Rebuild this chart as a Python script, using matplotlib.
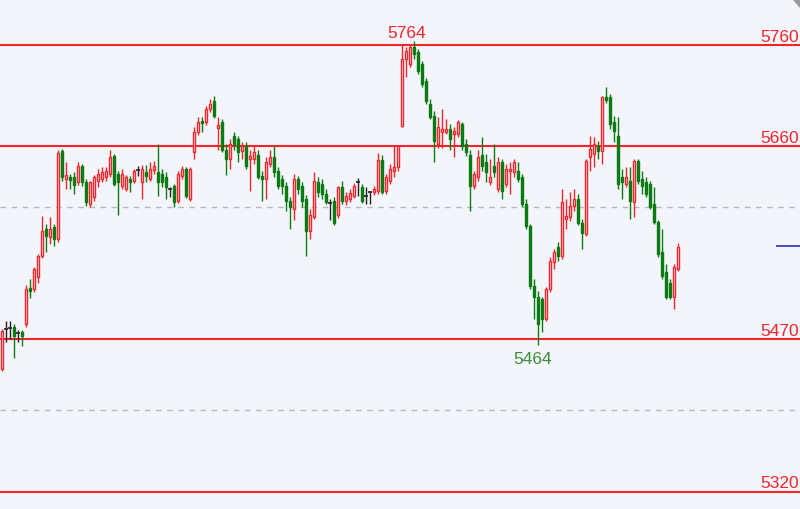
import matplotlib
matplotlib.use("Agg")
import matplotlib.pyplot as plt
import numpy as np

# OHLC per bar (price units)
opens = [5441, 5480, 5481, 5482, 5476, 5477, 5485, 5521, 5520, 5531,
         5552, 5579, 5571, 5581, 5569, 5656, 5628, 5630, 5630, 5625,
         5641, 5625, 5603, 5610, 5626, 5628, 5630, 5633, 5651, 5633,
         5621, 5618, 5628, 5626, 5637, 5625, 5635, 5628, 5637, 5635,
         5633, 5630, 5618, 5621, 5606, 5631, 5638, 5608, 5655, 5674,
         5685, 5684, 5697, 5705, 5678, 5684, 5657, 5648, 5670, 5667,
         5656, 5660, 5648, 5648, 5652, 5631, 5628, 5643, 5650, 5636,
         5628, 5621, 5606, 5598, 5628, 5621, 5608, 5577, 5591, 5625,
         5623, 5613, 5604, 5606, 5593, 5620, 5606, 5608, 5611, 5625,
         5620, 5611, 5615, 5615, 5616, 5647, 5616, 5626, 5636, 5640,
         5680, 5746, 5741, 5758, 5753, 5741, 5725, 5702, 5690, 5662,
         5674, 5674, 5677, 5672, 5672, 5682, 5662, 5652, 5621, 5630,
         5652, 5645, 5625, 5641, 5618, 5645, 5623, 5636, 5635, 5636,
         5630, 5603, 5582, 5523, 5512, 5510, 5490, 5520, 5546, 5561,
         5552, 5589, 5591, 5601, 5608, 5585, 5574, 5650, 5653, 5660,
         5656, 5709, 5709, 5684, 5670, 5630, 5623, 5626, 5605, 5646,
         5628, 5625, 5623, 5603, 5586, 5556, 5536, 5526, 5512, 5539]
highs = [5480, 5488, 5488, 5485, 5479, 5479, 5524, 5529, 5541, 5554,
         5592, 5584, 5591, 5584, 5657, 5658, 5645, 5633, 5635, 5645,
         5643, 5628, 5626, 5632, 5638, 5640, 5640, 5657, 5653, 5636,
         5638, 5632, 5631, 5638, 5641, 5642, 5642, 5645, 5646, 5662,
         5638, 5635, 5620, 5623, 5636, 5641, 5640, 5640, 5679, 5689,
         5689, 5700, 5707, 5710, 5689, 5687, 5662, 5667, 5674, 5670,
         5664, 5664, 5657, 5660, 5657, 5636, 5650, 5657, 5660, 5640,
         5632, 5625, 5610, 5633, 5631, 5625, 5612, 5598, 5635, 5630,
         5628, 5618, 5608, 5610, 5621, 5626, 5615, 5618, 5624, 5629,
         5623, 5620, 5616, 5621, 5654, 5652, 5633, 5643, 5660, 5661,
         5761, 5758, 5760, 5764, 5756, 5744, 5727, 5707, 5695, 5689,
         5697, 5687, 5682, 5679, 5686, 5684, 5667, 5657, 5636, 5657,
         5669, 5653, 5648, 5662, 5650, 5648, 5643, 5645, 5648, 5645,
         5633, 5608, 5584, 5529, 5518, 5512, 5522, 5551, 5559, 5566,
         5618, 5608, 5615, 5618, 5613, 5589, 5648, 5670, 5669, 5665,
         5710, 5719, 5712, 5690, 5689, 5638, 5640, 5640, 5648, 5648,
         5636, 5630, 5626, 5620, 5588, 5579, 5544, 5529, 5544, 5565]
lows = [5439, 5467, 5470, 5452, 5467, 5463, 5482, 5511, 5517, 5526,
        5550, 5556, 5564, 5562, 5566, 5626, 5618, 5618, 5613, 5622,
        5621, 5601, 5600, 5606, 5620, 5625, 5626, 5630, 5621, 5593,
        5618, 5616, 5615, 5624, 5631, 5608, 5625, 5626, 5633, 5611,
        5620, 5608, 5610, 5600, 5604, 5628, 5609, 5606, 5648, 5671,
        5674, 5681, 5694, 5688, 5657, 5655, 5632, 5638, 5657, 5645,
        5648, 5638, 5616, 5643, 5628, 5606, 5608, 5640, 5630, 5618,
        5613, 5596, 5579, 5588, 5613, 5600, 5552, 5569, 5589, 5610,
        5608, 5603, 5588, 5583, 5590, 5603, 5602, 5605, 5609, 5611,
        5604, 5603, 5603, 5612, 5613, 5613, 5613, 5623, 5630, 5636,
        5679, 5728, 5738, 5746, 5731, 5719, 5702, 5687, 5645, 5659,
        5659, 5672, 5657, 5650, 5669, 5657, 5651, 5596, 5618, 5626,
        5636, 5625, 5622, 5630, 5615, 5608, 5620, 5613, 5630, 5625,
        5600, 5579, 5520, 5490, 5464, 5477, 5488, 5517, 5539, 5547,
        5549, 5579, 5587, 5596, 5583, 5559, 5572, 5636, 5640, 5648,
        5643, 5703, 5677, 5664, 5618, 5608, 5620, 5589, 5591, 5623,
        5613, 5610, 5598, 5584, 5551, 5529, 5510, 5510, 5500, 5537]
closes = [5478, 5480, 5481, 5473, 5476, 5473, 5520, 5518, 5539, 5552,
          5577, 5572, 5579, 5569, 5654, 5630, 5632, 5627, 5622, 5641,
          5625, 5605, 5625, 5630, 5633, 5635, 5636, 5650, 5623, 5625,
          5633, 5630, 5625, 5636, 5637, 5638, 5631, 5638, 5641, 5625,
          5625, 5620, 5618, 5605, 5633, 5638, 5611, 5638, 5674, 5684,
          5683, 5697, 5702, 5690, 5681, 5657, 5648, 5662, 5662, 5655,
          5660, 5641, 5651, 5655, 5630, 5628, 5645, 5650, 5635, 5621,
          5621, 5606, 5600, 5628, 5618, 5606, 5577, 5593, 5626, 5615,
          5613, 5605, 5604, 5585, 5620, 5606, 5611, 5614, 5621, 5625,
          5606, 5611, 5615, 5618, 5647, 5615, 5630, 5638, 5640, 5660,
          5746, 5754, 5758, 5751, 5734, 5722, 5705, 5689, 5665, 5679,
          5677, 5677, 5667, 5675, 5684, 5660, 5655, 5621, 5633, 5650,
          5641, 5635, 5630, 5635, 5645, 5616, 5638, 5638, 5645, 5628,
          5603, 5582, 5523, 5512, 5485, 5490, 5520, 5547, 5556, 5552,
          5605, 5592, 5601, 5608, 5585, 5575, 5646, 5658, 5662, 5656,
          5709, 5706, 5682, 5675, 5623, 5625, 5630, 5606, 5646, 5626,
          5621, 5613, 5600, 5586, 5554, 5532, 5512, 5512, 5541, 5561]

levels = [5760, 5660, 5470, 5320]
grid_levels = [5600, 5400]
last_price = 5562
session_start = 60  # high/low labels refer to the later session only

bg = "#f4f4fb"
red = "#f0262b"
green = "#0a7a12"

fig = plt.figure(figsize=(8, 5.1), dpi=100, facecolor=bg)
ax = fig.add_axes([0, 0, 1, 1])
ax.set_facecolor(bg)
ax.set_xlim(-0.5, 199.5)
ax.set_ylim(5302.9, 5805.3)
ax.axis("off")

# dashed grid and support / resistance levels
for g in grid_levels:
    ax.axhline(g, color="#b8b8c0", lw=1, ls=(0, (4, 4)), zorder=1)
for lv in levels:
    ax.axhline(lv, color=red, lw=1.5, zorder=2)
    ax.annotate(str(lv), xy=(199.3, lv), xytext=(0, 1), textcoords="offset points",
                ha="right", va="bottom", color=red, fontsize=12.5,
                family="Liberation Sans")

# candles
x = np.arange(len(opens))
o = np.array(opens)
h = np.array(highs)
l = np.array(lows)
c = np.array(closes)
up = c > o
down = c < o
flat = c == o

ax.vlines(x[up], l[up], h[up], color=red, lw=1, zorder=3)
ax.vlines(x[down], l[down], h[down], color=green, lw=1, zorder=3)
ax.vlines(x[flat], l[flat], h[flat], color="#222222", lw=1, zorder=3)

ax.bar(x[up], (c - o)[up], bottom=o[up], width=0.7, facecolor=bg,
       edgecolor=red, lw=1, zorder=4)
ax.bar(x[down], (o - c)[down], bottom=c[down], width=0.7, facecolor=green,
       edgecolor=green, lw=1, zorder=4)
ax.hlines(o[flat], x[flat] - 0.45, x[flat] + 0.45, color="#222222", lw=1.2, zorder=4)

# high / low labels
ih = session_start + int(np.argmax(h[session_start:]))
il = session_start + int(np.argmin(l[session_start:]))
ax.annotate(str(h[ih]), xy=(ih, h[ih]), xytext=(-5, 1), textcoords="offset points",
            ha="center", va="bottom", color=red, fontsize=12.5, family="Liberation Sans")
ax.annotate(str(l[il]), xy=(il, l[il]), xytext=(-4, -4), textcoords="offset points",
            ha="center", va="top", color="#3a8f3a", fontsize=12.5, family="Liberation Sans")

# last price marker at right edge
ax.hlines(last_price, 193.5, 199.5, color="#3a3fb0", lw=1.3, zorder=3)

# small corner mark top right
ax.fill([0.991, 1.0, 1.0], [1.0, 1.0, 0.985], color="#9a9a9a",
        transform=ax.transAxes, zorder=5)

fig.savefig("out.png", dpi=100, facecolor=bg)
